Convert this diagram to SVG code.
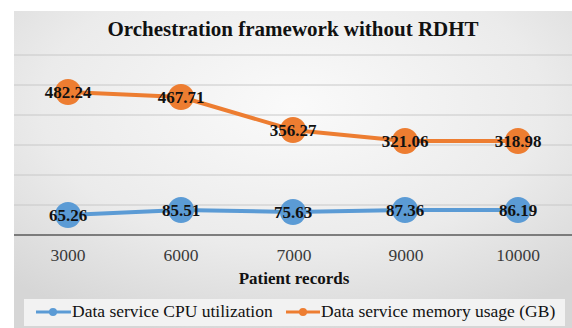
<svg xmlns="http://www.w3.org/2000/svg" width="572" height="328" viewBox="0 0 572 328">
  <defs>
    <radialGradient id="chartBg" cx="0.5" cy="0.3" r="0.75">
      <stop offset="0" stop-color="#fafafa"/>
      <stop offset="0.6" stop-color="#ebebeb"/>
      <stop offset="1" stop-color="#d6d6d6"/>
    </radialGradient>
    <style>
      .grid { stroke: #c8c8c8; stroke-width: 1; }
      .axis { stroke: #5a5a5a; stroke-width: 1.5; }
      .title { font-family: "Liberation Serif", "Times New Roman", serif; font-weight: bold; font-size: 21px; fill: #111; text-anchor: middle; }
      .cat { font-family: "Liberation Serif", "Times New Roman", serif; font-size: 17.5px; fill: #3a3a3a; text-anchor: middle; }
      .axtitle { font-family: "Liberation Serif", "Times New Roman", serif; font-weight: bold; font-size: 17px; fill: #111; text-anchor: middle; }
      .val { font-family: "Liberation Serif", "Times New Roman", serif; font-weight: bold; font-size: 17px; fill: #111; text-anchor: middle; }
      .leg { font-family: "Liberation Serif", "Times New Roman", serif; font-size: 17.5px; fill: #111; }
      .cpu-line { fill: none; stroke: #5b9bd5; stroke-width: 4; stroke-linejoin: round; stroke-linecap: round; }
      .mem-line { fill: none; stroke: #ed7d31; stroke-width: 4; stroke-linejoin: round; stroke-linecap: round; }
      .cpu-pt { fill: #5b9bd5; }
      .mem-pt { fill: #ed7d31; }
    </style>
  </defs>

  <!-- page and chart area -->
  <rect x="0" y="0" width="572" height="328" fill="#ffffff"/>
  <rect x="14" y="11" width="558" height="317" fill="url(#chartBg)"/>

  <text class="title" x="293" y="36">Orchestration framework without RDHT</text>

  <!-- horizontal gridlines and category axis -->
  <g id="grid">
    <line class="grid" x1="14" y1="55" x2="572" y2="55"/>
    <line class="grid" x1="14" y1="85" x2="572" y2="85"/>
    <line class="grid" x1="14" y1="115" x2="572" y2="115"/>
    <line class="grid" x1="14" y1="145" x2="572" y2="145"/>
    <line class="grid" x1="14" y1="175" x2="572" y2="175"/>
    <line class="grid" x1="14" y1="205" x2="572" y2="205"/>
    <line class="axis" x1="14" y1="235" x2="572" y2="235"/>
  </g>

  <g id="categories">
    <text class="cat" x="68" y="261">3000</text>
    <text class="cat" x="181" y="261">6000</text>
    <text class="cat" x="294" y="261">7000</text>
    <text class="cat" x="406" y="261">9000</text>
    <text class="cat" x="518" y="261">10000</text>
    <text class="axtitle" x="294" y="284">Patient records</text>
  </g>

  <!-- series lines -->
  <g id="connectors">
    <polyline class="mem-line" points="68,92 181,97 293,130 405,141 518,141"/>
    <polyline class="cpu-line" points="68,215 181,210 293,212 405,210 518,210"/>
  </g>

  <!-- memory usage series points -->
  <g id="mem-3000"><circle class="mem-pt" cx="68" cy="92" r="13"/><text class="val" x="68" y="98">482.24</text></g>
  <g id="mem-6000"><circle class="mem-pt" cx="181" cy="97" r="13"/><text class="val" x="181" y="103">467.71</text></g>
  <g id="mem-7000"><circle class="mem-pt" cx="293" cy="130" r="13"/><text class="val" x="293" y="136">356.27</text></g>
  <g id="mem-9000"><circle class="mem-pt" cx="405" cy="141" r="13"/><text class="val" x="405" y="147">321.06</text></g>
  <g id="mem-10000"><circle class="mem-pt" cx="518" cy="141" r="13"/><text class="val" x="518" y="147">318.98</text></g>

  <!-- CPU utilization series points -->
  <g id="cpu-3000"><circle class="cpu-pt" cx="68" cy="215" r="13"/><text class="val" x="68" y="221">65.26</text></g>
  <g id="cpu-6000"><circle class="cpu-pt" cx="181" cy="210" r="13"/><text class="val" x="181" y="216">85.51</text></g>
  <g id="cpu-7000"><circle class="cpu-pt" cx="293" cy="212" r="13"/><text class="val" x="293" y="218">75.63</text></g>
  <g id="cpu-9000"><circle class="cpu-pt" cx="405" cy="210" r="13"/><text class="val" x="405" y="216">87.36</text></g>
  <g id="cpu-10000"><circle class="cpu-pt" cx="518" cy="210" r="13"/><text class="val" x="518" y="216">86.19</text></g>

  <!-- legend -->
  <g id="legend">
    <rect x="24" y="299" width="541" height="27" fill="#f2f2f2"/>
    <line x1="36" y1="312" x2="71" y2="312" stroke="#5b9bd5" stroke-width="3"/>
    <circle cx="53" cy="312" r="4" class="cpu-pt"/>
    <text class="leg" x="72" y="317">Data service CPU utilization</text>
    <line x1="286" y1="312" x2="320" y2="312" stroke="#ed7d31" stroke-width="3"/>
    <circle cx="303" cy="312" r="4" class="mem-pt"/>
    <text class="leg" x="321" y="317">Data service memory usage (GB)</text>
  </g>
</svg>
